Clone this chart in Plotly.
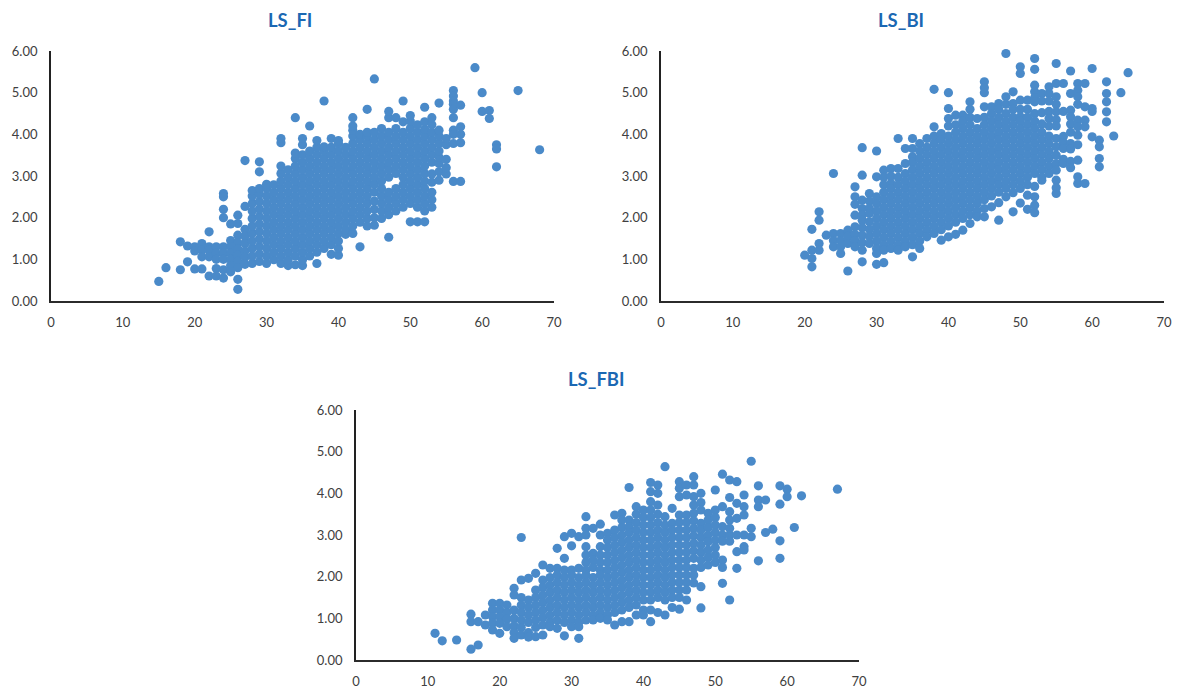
import plotly.graph_objects as go

TITLES = ["LS_FI", "LS_BI", "LS_FBI"]
X_TICKS = [0, 10, 20, 30, 40, 50, 60, 70]
Y_TICKS = [0, 1, 2, 3, 4, 5, 6]
Y_LABELS = ["0.00", "1.00", "2.00", "3.00", "4.00", "5.00", "6.00"]

fi_x = [15,16,18,19,20,21,22,23,24,25,26,27,28,29,30,31,32,33,34,35,36,37,38,39,40,41,42,43,44,45,46,47,48,49,50,51,52,53,54,55,56,57,59,60,61,62,65,68]
fi_y = [
 [.47],[.8],[1.42,.75],[1.32,.94],[1.3,1.2,.77],[1.38,1.22,1.06,.77],[1.66,1.3,1.22,1.06,.6],
 [1.3,1.15,1.0,.78,.6],[2.58,2.5,2.2,2.0,1.3,1.15,1.0,.75,.55],
 [1.85,1.45,1.3,1.15,1.0,.85,.7],[2.06,1.86,1.58,1.4,1.25,1.1,.95,.8,.52,.28],
 [3.37,2.27,1.72,1.55,1.38,1.2,1.05,.88],
 [.9,1.08,1.26,1.44,1.62,1.8,1.98,2.16,2.34,2.52,2.65],
 [.95,1.13,1.31,1.49,1.67,1.85,2.03,2.21,2.39,2.57,2.7,3.1,3.34],
 [.9,1.08,1.26,1.44,1.62,1.8,1.98,2.16,2.34,2.52,2.7,2.8],
 [.99,1.17,1.35,1.53,1.71,1.89,2.07,2.25,2.43,2.61,2.79],
 [.9,1.08,1.26,1.44,1.62,1.8,1.98,2.16,2.34,2.52,2.7,2.88,3.06,3.24,3.8,3.9],
 [.85,.99,1.17,1.35,1.53,1.71,1.89,2.07,2.25,2.43,2.61,2.79,2.97,3.15],
 [.87,1.08,1.26,1.44,1.62,1.8,1.98,2.16,2.34,2.52,2.7,2.88,3.06,3.24,3.42,3.55,4.4],
 [.85,.99,1.17,1.35,1.53,1.71,1.89,2.07,2.25,2.43,2.61,2.79,2.97,3.15,3.33,3.51,3.75,3.9],
 [1.08,1.26,1.44,1.62,1.8,1.98,2.16,2.34,2.52,2.7,2.88,3.06,3.24,3.42,3.6,4.2],
 [.9,1.17,1.35,1.53,1.71,1.89,2.07,2.25,2.43,2.61,2.79,2.97,3.15,3.33,3.51,3.69,3.85],
 [1.26,1.44,1.62,1.8,1.98,2.16,2.34,2.52,2.7,2.88,3.06,3.24,3.42,3.6,3.7,4.8],
 [1.12,1.35,1.53,1.71,1.89,2.07,2.25,2.43,2.61,2.79,2.97,3.15,3.33,3.51,3.69,3.9],
 [1.1,1.26,1.44,1.62,1.8,1.98,2.16,2.34,2.52,2.7,2.88,3.06,3.24,3.42,3.6,3.78,3.85],
 [1.6,1.71,1.89,2.07,2.25,2.43,2.61,2.79,2.97,3.15,3.33,3.51,3.69],
 [1.62,1.8,1.98,2.16,2.34,2.52,2.7,2.88,3.06,3.24,3.42,3.6,3.78,3.96,4.1,4.2,4.4],
 [1.3,1.89,2.07,2.25,2.43,2.61,2.79,2.97,3.15,3.33,3.51,3.69,3.87,4.0],
 [1.8,1.98,2.16,2.34,2.52,2.7,2.88,3.06,3.24,3.42,3.6,3.78,3.96,4.05,4.6],
 [1.82,2.0,2.2,2.4,2.61,2.8,2.97,3.15,3.33,3.51,3.69,3.87,4.05,5.33],
 [1.98,2.16,2.34,2.52,2.7,2.88,3.06,3.24,3.42,3.6,3.78,3.96,4.14],
 [1.53,2.07,2.25,2.43,2.61,2.97,3.15,3.33,3.51,3.69,3.87,4.05,4.4,4.55],
 [2.16,2.34,2.52,2.7,3.06,3.24,3.42,3.6,3.78,3.96,4.14,4.4],
 [2.25,2.43,2.61,2.79,2.97,3.15,3.33,3.51,3.69,3.87,4.05,4.3,4.8],
 [1.9,2.34,2.52,2.7,2.88,3.06,3.24,3.42,3.6,3.78,3.96,4.14,4.32,4.45],
 [1.9,2.25,2.43,2.61,2.79,2.97,3.15,3.33,3.51,3.69,3.87,4.05,4.23],
 [1.9,2.16,2.34,2.52,2.7,2.88,3.06,3.24,3.42,3.6,3.78,3.96,4.12,4.3,4.65],
 [2.25,2.43,2.61,2.85,3.05,3.33,3.51,3.69,3.87,4.05,4.23,4.4],
 [2.9,3.1,3.3,3.45,3.6,3.78,3.96,4.1,4.75],
 [3.05,3.2,3.4,3.75,3.9],
 [5.05,4.92,4.8,4.72,4.6,4.4,4.1,4.0,3.78,2.87],
 [4.7,4.18,4.0,3.8,2.87],[5.6],[5.0,4.55],[4.57,4.38],[3.75,3.65,3.22],[5.05],[3.63],
]

bi_x = [20,21,22,23,24,25,26,27,28,29,30,31,32,33,34,35,36,37,38,39,40,41,42,43,44,45,46,47,48,49,50,51,52,53,54,55,56,57,58,59,60,61,62,63,64,65]
bi_y = [
 [1.1],[1.72,1.22,1.02,.82],[2.14,1.94,1.38,1.22],[1.58],[3.06,1.62,1.45,1.3],[1.62,1.45,1.3,1.14],
 [1.7,1.55,1.38,.72],[2.74,2.5,2.32,2.06,1.78,1.6,1.45,1.3],
 [3.68,3.02,2.42,2.22,2.06,1.94,1.76,1.58,1.4,1.22,.94],
 [2.58,2.4,2.22,2.1,1.9,1.72,1.55,1.38],
 [3.6,2.98,2.5,2.34,2.16,1.98,1.8,1.62,1.44,1.26,1.14,.88],
 [3.14,2.97,2.79,2.61,2.43,2.25,2.07,1.89,1.71,1.53,1.35,1.22,.92],
 [3.18,3.0,2.82,2.7,2.52,2.34,2.16,1.98,1.8,1.62,1.44,1.26],
 [3.9,3.18,2.97,2.79,2.61,2.43,2.25,2.07,1.89,1.71,1.53,1.35,1.22],
 [3.66,3.3,3.06,2.88,2.7,2.52,2.34,2.16,1.98,1.8,1.62,1.44,1.3],
 [3.9,3.66,3.46,3.33,3.15,2.97,2.79,2.61,2.43,2.25,2.07,1.89,1.71,1.53,1.35,1.06],
 [3.78,3.6,3.42,3.24,3.06,2.88,2.7,2.52,2.34,2.16,1.98,1.8,1.62,1.44,1.26],
 [3.9,3.69,3.51,3.33,3.15,2.97,2.79,2.61,2.43,2.25,2.07,1.89,1.71,1.54],
 [5.08,4.18,3.96,3.78,3.6,3.42,3.24,3.06,2.88,2.7,2.52,2.34,2.16,1.98,1.8,1.62],
 [4.02,3.87,3.69,3.51,3.33,3.15,2.97,2.79,2.61,2.43,2.25,2.07,1.89,1.71,1.46],
 [5.0,4.62,4.38,4.2,3.96,3.78,3.6,3.42,3.24,3.06,2.88,2.7,2.52,2.34,2.16,1.98,1.8,1.54],
 [4.46,4.23,4.05,3.87,3.69,3.51,3.33,3.15,2.97,2.79,2.61,2.43,2.25,2.07,1.89,1.6],
 [4.46,4.32,4.14,3.96,3.78,3.6,3.42,3.24,3.06,2.88,2.7,2.52,2.34,2.16,1.98,1.7],
 [4.78,4.6,4.41,4.23,4.05,3.87,3.69,3.51,3.33,3.15,2.97,2.79,2.61,2.43,2.25,2.07,1.86],
 [4.38,4.14,3.96,3.78,3.6,3.42,3.24,3.06,2.88,2.7,2.52,2.34,2.16,2.02],
 [5.26,5.12,5.0,4.66,4.41,4.23,4.05,3.87,3.69,3.51,3.33,3.15,2.97,2.79,2.61,2.43,2.22,2.02],
 [4.66,4.5,4.32,4.14,3.96,3.78,3.6,3.42,3.24,3.06,2.88,2.7,2.52,2.26],
 [4.74,4.6,4.41,4.23,4.05,3.87,3.69,3.51,3.33,3.15,2.97,2.79,2.61,2.36,1.94],
 [5.94,4.9,4.72,4.5,4.32,4.14,3.96,3.78,3.6,3.42,3.24,3.06,2.88,2.7,2.5],
 [5.02,4.74,4.6,4.41,4.23,4.05,3.87,3.69,3.51,3.33,3.15,2.97,2.79,2.6,2.14],
 [5.62,5.46,4.82,4.6,4.42,4.32,4.14,3.96,3.78,3.6,3.42,3.24,3.06,2.88,2.7,2.35],
 [4.82,4.6,4.41,4.23,4.05,3.87,3.69,3.51,3.33,3.15,2.97,2.79,2.54,2.2],
 [5.82,5.56,5.18,5.02,4.88,4.78,4.5,4.32,4.14,3.96,3.78,3.6,3.42,3.24,3.06,2.75,2.5,2.3,2.12],
 [4.98,4.8,4.52,4.25,4.05,3.87,3.69,3.51,3.33,3.15,2.97,2.9],
 [5.14,4.98,4.8,4.55,4.38,4.2,3.96,3.78,3.6,3.42,3.24,3.06],
 [5.7,5.22,4.9,4.72,4.54,4.35,4.2,3.9,3.7,3.5,3.3,3.14,2.9,2.72,2.58],
 [5.22,4.55,3.95,3.8,3.66,3.4,3.3],
 [5.52,4.98,4.58,4.42,4.25,4.05,3.78,3.65,3.35,3.2],
 [5.22,5.06,4.9,4.72,4.34,4.18,3.98,3.75,3.38,2.98,2.82],
 [5.22,4.66,4.34,4.18,2.82],[5.58,4.62,4.55,3.94],[3.86,3.7,3.42,3.22],
 [5.26,4.98,4.78,4.54,4.3],[3.96],[5.0],[5.48],
]

fbi_x = [11,12,14,16,17,18,19,20,21,22,23,24,25,26,27,28,29,30,31,32,33,34,35,36,37,38,39,40,41,42,43,44,45,46,47,48,49,50,51,52,53,54,55,56,57,58,59,60,61,62,67]
fbi_y = [
 [.64],[.46],[.48],[1.1,.92,.26],[.92,.36],[1.08,.84],[1.36,1.2,1.04,.88,.72],[1.36,1.2,1.04,.88,.64],
 [1.32,1.14,.98,.8],[1.72,1.56,1.2,1.0,.82,.66,.52],[2.94,1.92,1.5,1.32,1.14,.96,.78,.6],
 [1.96,1.44,1.26,1.08,.9,.66,.55],[2.08,1.68,1.5,1.32,1.14,.96,.78,.56],
 [2.28,1.92,1.74,1.56,1.38,1.2,1.02,.84,.6],[2.2,1.98,1.8,1.62,1.44,1.26,1.08,.9,.8],
 [2.68,2.2,2.04,1.86,1.68,1.5,1.32,1.14,.96,.76],
 [2.96,2.44,2.16,1.98,1.8,1.62,1.44,1.26,1.08,.9,.58],
 [3.04,2.74,2.16,2.04,1.86,1.68,1.5,1.32,1.14,.96,.8],
 [2.96,2.2,1.98,1.8,1.62,1.44,1.26,1.08,.9,.8,.52],
 [3.44,3.16,3.0,2.72,2.52,2.34,2.16,2.04,1.86,1.68,1.5,1.32,1.14,.96],
 [3.16,2.56,2.4,2.22,1.98,1.8,1.62,1.44,1.26,1.08,.96],
 [3.26,3.0,2.72,2.52,2.34,2.16,2.04,1.86,1.68,1.5,1.32,1.14,1.0],
 [3.04,2.88,2.7,2.52,2.34,2.16,1.98,1.8,1.62,1.44,1.26,1.08,.96],
 [3.48,3.12,2.94,2.76,2.58,2.4,2.22,2.04,1.86,1.68,1.5,1.32,1.14,.84],
 [3.52,3.36,3.18,3.0,2.82,2.64,2.46,2.28,2.1,1.92,1.74,1.56,1.38,1.2,.92],
 [4.14,3.36,3.2,3.06,2.88,2.7,2.52,2.34,2.16,1.98,1.8,1.62,1.44,1.26,.92],
 [3.68,3.5,3.3,3.12,2.94,2.76,2.58,2.4,2.22,2.04,1.86,1.68,1.5,1.32,1.08],
 [3.6,3.42,3.24,3.06,2.88,2.7,2.52,2.34,2.16,1.98,1.8,1.62,1.44,1.2,1.08],
 [4.26,4.04,3.8,3.6,3.42,3.24,3.06,2.88,2.7,2.52,2.34,2.16,1.98,1.8,1.62,1.44,1.2,.92],
 [4.2,4.0,3.72,3.5,3.3,3.12,2.94,2.76,2.58,2.4,2.22,2.04,1.86,1.68,1.5,1.14],
 [4.64,3.44,3.24,3.06,2.88,2.7,2.52,2.34,2.16,1.98,1.8,1.62,1.44,1.08],
 [3.64,3.28,3.12,2.94,2.76,2.58,2.4,2.22,2.04,1.86,1.68,1.5,1.26],
 [4.28,4.12,3.92,3.48,3.3,3.12,2.94,2.76,2.58,2.4,2.22,2.04,1.86,1.68,1.5,1.22],
 [4.2,3.96,3.48,3.3,3.12,2.94,2.76,2.58,2.4,2.22,2.04,1.86,1.68,1.44],
 [4.4,4.2,3.92,3.72,3.52,3.34,3.16,2.98,2.8,2.62,2.44,2.2,2.04,1.85],
 [4.0,3.78,3.6,3.28,3.12,2.94,2.76,2.58,2.4,2.22,1.76,1.25],
 [3.52,3.36,3.18,3.0,2.84,2.64,2.46,2.28],
 [4.08,3.6,3.42,3.24,3.06,2.88,2.7,2.52,2.34],
 [4.46,3.68,3.2,3.0,2.85,2.4,2.22,1.84],
 [4.32,3.9,3.56,3.36,3.16,3.0,2.85,1.44],
 [4.28,3.76,3.4,3.0,2.6,2.2],
 [3.96,3.68,3.48,3.0,2.72,2.64],
 [4.77,3.16,2.96],[4.18,3.84,3.68,2.38],[3.84,3.06],[3.14],[4.18,3.74,2.86,2.44],[4.1,3.92],[3.18],[3.94],[4.1],
]

PANELS = [(fi_x, fi_y, 51, 301, 290, 20), (bi_x, bi_y, 661, 301, 901, 20), (fbi_x, fbi_y, 356, 660, 596, 379)]
W, H = 1183, 688
fig = go.Figure()
layout = dict(width=W, height=H, margin=dict(l=0, r=0, t=0, b=0), plot_bgcolor="white", paper_bgcolor="white",
              showlegend=False, font=dict(family="Lato", size=13, color="#404040"))
annotations = []
for i, (xs, ys, left, bottom, tx, ty) in enumerate(PANELS):
    n = "" if i == 0 else str(i + 1)
    px = [x for x, col in zip(xs, ys) for _ in col]
    py = [v for col in ys for v in col]
    fig.add_trace(go.Scatter(x=px, y=py, mode="markers", xaxis="x" + n, yaxis="y" + n, name=TITLES[i], cliponaxis=False,
                             marker=dict(size=9.2, color="#4A8AC9", line=dict(width=0))))
    layout["xaxis" + n] = dict(domain=[left / W, (left + 503) / W], range=[0, 70], tickvals=X_TICKS, anchor="y" + n,
                               showgrid=False, zeroline=False, showline=True, linecolor="#2b2b2b", linewidth=1.8,
                               ticks="", ticklen=0, automargin=False, ticklabelstandoff=8)
    layout["yaxis" + n] = dict(domain=[(H - bottom) / H, (H - bottom + 250) / H], range=[0, 6], tickvals=Y_TICKS,
                               ticktext=Y_LABELS, anchor="x" + n, showgrid=False, zeroline=False, showline=True,
                               linecolor="#222222", linewidth=1.8, ticks="", ticklen=0, automargin=False,
                               ticklabelstandoff=9)
    annotations.append(dict(text="<b>%s</b>" % TITLES[i], x=tx / W, y=1 - ty / H, xref="paper", yref="paper",
                            showarrow=False, xanchor="center", yanchor="middle",
                            font=dict(family="Lato", size=18.5, color="#1B68B3")))
layout["annotations"] = annotations
fig.update_layout(**layout)
fig.write_html("out.html", post_script="document.body.style.margin='0';", config=dict(displayModeBar=False))
